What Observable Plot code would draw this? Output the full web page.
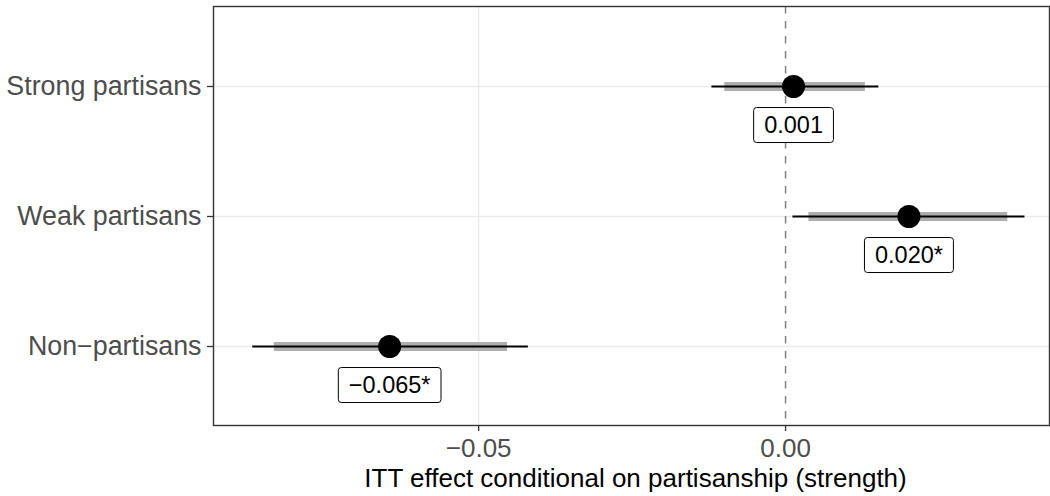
<!DOCTYPE html>
<html>
<head>
<meta charset="utf-8">
<script src="https://cdn.jsdelivr.net/npm/d3@7"></script>
<script src="https://cdn.jsdelivr.net/npm/@observablehq/plot@0.6"></script>
<style>
  html, body { margin: 0; padding: 0; background: #fff; }
  svg { display: block; }
</style>
</head>
<body>
<div id="chart"></div>
<script>
// ---- data ----
const groups = ["Strong partisans", "Weak partisans", "Non\u2212partisans"];
const estimates = [0.0013, 0.0201, -0.0645];
const lo95 = [-0.0120, 0.0012, -0.0868];
const hi95 = [0.0152, 0.0390, -0.0419];
const lo90 = [-0.0099, 0.0038, -0.0833];
const hi90 = [0.0130, 0.0362, -0.0453];
const labels = ["0.001", "0.020*", "\u22120.065*"];
const xTicks = [-0.05, 0];
const xDomain = [-0.0932, 0.0430];
const xTitle = "ITT effect conditional on partisanship (strength)";

const rows = groups.map((g, i) => ({
  group: g, est: estimates[i], lo95: lo95[i], hi95: hi95[i],
  lo90: lo90[i], hi90: hi90[i], label: labels[i]
}));

const font = "'Liberation Sans', Arial, Helvetica, sans-serif";

const chart = Plot.plot({
  width: 1050,
  height: 496,
  marginLeft: 213,
  marginRight: 1,
  marginTop: 6,
  marginBottom: 71,
  style: { fontFamily: font, background: "#fff", overflow: "visible" },
  x: { domain: xDomain, ticks: xTicks, label: null },
  y: { type: "point", domain: groups, padding: 0.6, label: null },
  marks: [
    Plot.gridX(xTicks.slice(0, 1), { stroke: "#EBEBEB", strokeOpacity: 1, strokeWidth: 1.6 }),
    Plot.gridY(groups, { stroke: "#EBEBEB", strokeOpacity: 1, strokeWidth: 1.6 }),
    Plot.ruleX([0], { stroke: "#808080", strokeWidth: 1.5, strokeDasharray: "7.5,7.5" }),
    Plot.ruleY(rows, { y: "group", x1: "lo90", x2: "hi90", stroke: "#AEAEAE", strokeWidth: 9 }),
    Plot.ruleY(rows, { y: "group", x1: "lo95", x2: "hi95", stroke: "#000", strokeWidth: 2 }),
    Plot.dot(rows, { x: "est", y: "group", r: 11.5, fill: "#000", stroke: "none" }),
    Plot.text(rows, { x: "est", y: "group", text: "label", dy: 39, fontSize: 23.5, fill: "#000", fontFamily: font }),
    Plot.axisX(xTicks, {
      anchor: "bottom", tickSize: 6, tickPadding: 7, fontSize: 26,
      fill: "#4D4D4D", stroke: "#333", strokeWidth: 1.3,
      tickFormat: d3.format(".2f"), label: null
    }),
    Plot.axisY(groups, {
      anchor: "left", tickSize: 6, tickPadding: 6, fontSize: 26.8,
      fill: "#4D4D4D", stroke: "#333", strokeWidth: 1.3, label: null
    }),
    Plot.text([xTitle], {
      text: d => d, frameAnchor: "bottom", lineAnchor: "top", dy: 43, dx: 4,
      fontSize: 26, fill: "#000", fontFamily: font
    }),
    Plot.frame({ stroke: "#333", strokeWidth: 1.4 })
  ]
});

document.getElementById("chart").appendChild(chart);

// draw label boxes behind the value labels (text mark of the rows)
const svgEl = chart.tagName.toLowerCase() === "svg" ? chart : chart.querySelector("svg");
const textGroups = Array.from(svgEl.querySelectorAll('g[aria-label="text"]'));
const labelGroup = textGroups.find(g => g.querySelectorAll("text").length === rows.length);
if (labelGroup) {
  labelGroup.querySelectorAll("text").forEach(t => {
    const b = t.getBBox();
    const rect = document.createElementNS("http://www.w3.org/2000/svg", "rect");
    const padX = 10.5, h = 35;
    rect.setAttribute("x", b.x - padX);
    rect.setAttribute("y", b.y + b.height / 2 - h / 2);
    rect.setAttribute("width", b.width + 2 * padX);
    rect.setAttribute("height", h);
    rect.setAttribute("rx", 3);
    rect.setAttribute("fill", "#fff");
    rect.setAttribute("stroke", "#000");
    rect.setAttribute("stroke-width", 1);
    if (t.getAttribute("transform")) rect.setAttribute("transform", t.getAttribute("transform"));
    t.parentNode.insertBefore(rect, t);
  });
}
</script>
</body>
</html>
